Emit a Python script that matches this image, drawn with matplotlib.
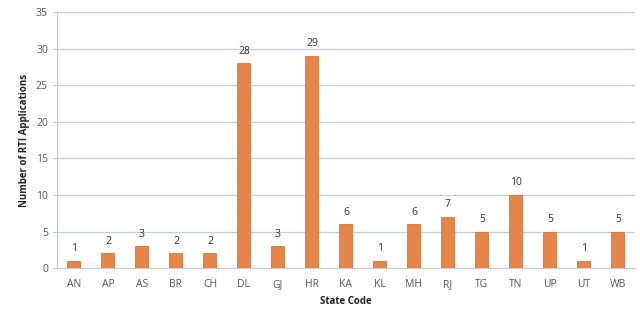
import matplotlib
matplotlib.use("Agg")
import matplotlib.pyplot as plt

states = ["AN", "AP", "AS", "BR", "CH", "DL", "GJ", "HR", "KA", "KL", "MH", "RJ", "TG", "TN", "UP", "UT", "WB"]
counts = [1, 2, 3, 2, 2, 28, 3, 29, 6, 1, 6, 7, 5, 10, 5, 1, 5]
yticks = [0, 5, 10, 15, 20, 25, 30, 35]

plt.rcParams['font.family'] = ['Open Sans', 'DejaVu Sans']

fig = plt.figure(figsize=(6.4, 3.18), dpi=100)
ax = fig.add_axes([0.089, 0.157, 0.903, 0.805])

x = list(range(len(states)))
ax.bar(x, counts, width=0.38, color="#E5854A", edgecolor="#D8743A", linewidth=0.6, zorder=3)
for xi, v in zip(x, counts):
    ax.text(xi, v + 0.9, str(v), ha="center", va="bottom", fontsize=7.5, color="#333333")

ax.set_xlim(-0.5, len(states) - 0.5)
ax.set_ylim(0, 35)
ax.set_yticks(yticks)
ax.set_xticks(x)
ax.set_xticklabels(states)
ax.tick_params(axis="both", labelsize=7.5, colors="#555555", length=3, color="#B8C4D0")
ax.tick_params(axis="x", length=0, pad=8)
ax.grid(axis="y", color="#C8CDD2", linewidth=0.9, zorder=0)
for s in ["top", "right"]:
    ax.spines[s].set_visible(False)
ax.spines["left"].set_color("#C0CCD8")
ax.spines["bottom"].set_color("#C8CDD2")
ax.set_ylabel("Number of RTI Applications", fontsize=7, fontweight="bold", color="#222222")
ax.set_xlabel("State Code", fontsize=7, fontweight="bold", color="#222222", labelpad=4)

fig.savefig("out.png", dpi=100)
